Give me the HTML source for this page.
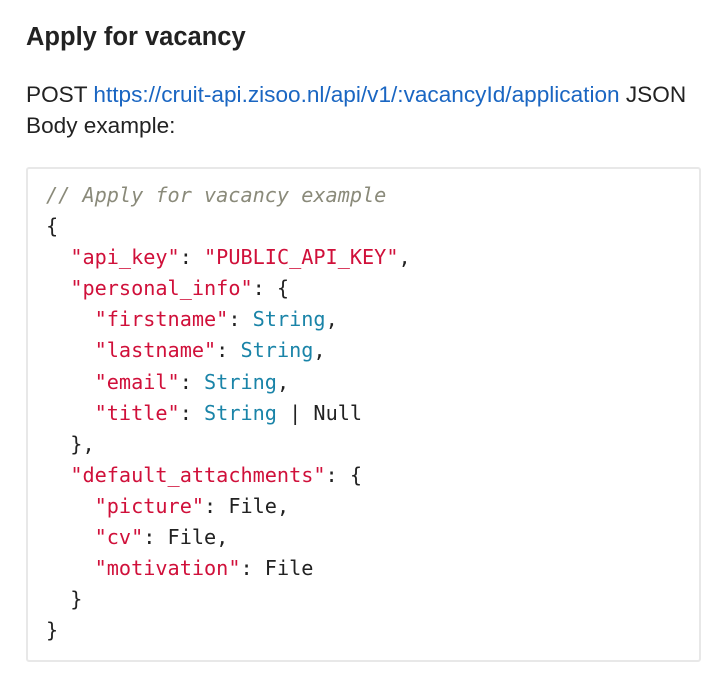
<!DOCTYPE html>
<html><head><meta charset="utf-8"><style>
body{margin:0;background:#fff;width:724px;height:690px;overflow:hidden;font-family:"Liberation Sans",Arial,sans-serif;color:#222;}
h1{position:absolute;left:26px;top:18px;margin:0;font-size:25.5px;font-weight:bold;line-height:38px;color:#222;}
p{position:absolute;left:26px;top:79px;margin:0;font-size:22.6px;line-height:31px;width:700px;white-space:nowrap;}
a{color:#1a66c2;text-decoration:none;}
.box{position:absolute;left:26px;top:167px;width:671px;height:491px;border:2px solid #e8e8e8;border-radius:3px;background:#fff;}
pre{position:absolute;left:46px;top:180px;margin:0;font-family:"DejaVu Sans Mono","Liberation Mono",monospace;font-size:20.2px;line-height:31.1px;color:#222;}
.c{color:#8a8a7a;font-style:italic;}
.s{color:#d0103a;}
.t{color:#1a84a8;}
</style></head><body>
<h1>Apply for vacancy</h1>
<p>POST <a>https://cruit-api.zisoo.nl/api/v1/:vacancyId/application</a> JSON<br>Body example:</p>
<div class="box"></div>
<pre><span class="c">// Apply for vacancy example</span>
{
  <span class="s">"api_key"</span>: <span class="s">"PUBLIC_API_KEY"</span>,
  <span class="s">"personal_info"</span>: {
    <span class="s">"firstname"</span>: <span class="t">String</span>,
    <span class="s">"lastname"</span>: <span class="t">String</span>,
    <span class="s">"email"</span>: <span class="t">String</span>,
    <span class="s">"title"</span>: <span class="t">String</span> | Null
  },
  <span class="s">"default_attachments"</span>: {
    <span class="s">"picture"</span>: File,
    <span class="s">"cv"</span>: File,
    <span class="s">"motivation"</span>: File
  }
}</pre>
</body></html>
